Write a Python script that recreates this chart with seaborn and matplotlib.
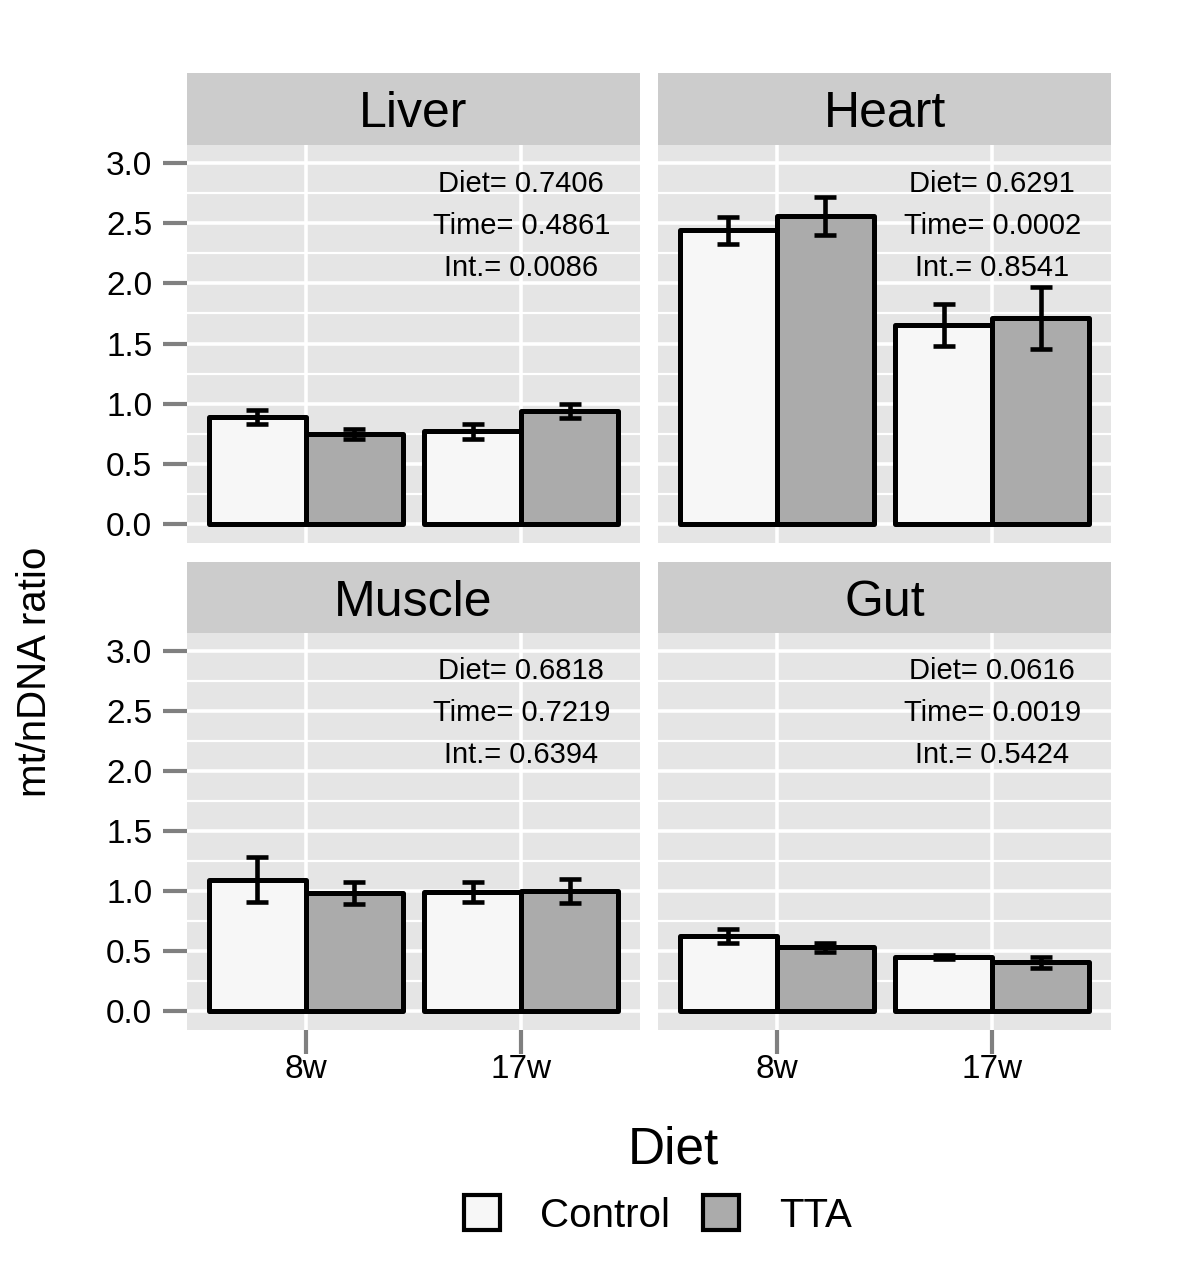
import numpy as np
import pandas as pd
import matplotlib
matplotlib.use('Agg')
import matplotlib.pyplot as plt
import seaborn as sns
from matplotlib.patches import Patch

# ---------------- data ----------------
tissues = ['Liver', 'Heart', 'Muscle', 'Gut']
times = ['8w', '17w']
diets = ['Control', 'TTA']
# order inside each list: 8w Control, 8w TTA, 17w Control, 17w TTA
liver_mean = [0.89, 0.75, 0.77, 0.94]
liver_err = [0.061, 0.040, 0.064, 0.058]
heart_mean = [2.44, 2.56, 1.655, 1.71]
heart_err = [0.114, 0.155, 0.177, 0.258]
muscle_mean = [1.095, 0.985, 0.99, 1.0]
muscle_err = [0.187, 0.093, 0.083, 0.098]
gut_mean = [0.625, 0.53, 0.45, 0.405]
gut_err = [0.058, 0.036, 0.017, 0.046]

stats_liver = ['Diet= 0.7406', 'Time= 0.4861', 'Int.= 0.0086']
stats_heart = ['Diet= 0.6291', 'Time= 0.0002', 'Int.= 0.8541']
stats_muscle = ['Diet= 0.6818', 'Time= 0.7219', 'Int.= 0.6394']
stats_gut = ['Diet= 0.0616', 'Time= 0.0019', 'Int.= 0.5424']

means = {'Liver': liver_mean, 'Heart': heart_mean, 'Muscle': muscle_mean, 'Gut': gut_mean}
errs = {'Liver': liver_err, 'Heart': heart_err, 'Muscle': muscle_err, 'Gut': gut_err}
stats = {'Liver': stats_liver, 'Heart': stats_heart, 'Muscle': stats_muscle, 'Gut': stats_gut}

rows = []
for t in tissues:
    k = 0
    for tm in times:
        for d in diets:
            rows.append(dict(Tissue=t, Time=tm, Diet=d, ratio=means[t][k], err=errs[t][k]))
            k += 1
df = pd.DataFrame(rows)

# ---------------- style ----------------
sns.set_theme(style='white')
plt.rcParams['font.family'] = ['Liberation Sans', 'DejaVu Sans']
plt.rcParams['text.color'] = 'black'

fill = {'Control': '#F7F7F7', 'TTA': '#ABABAB'}
panel_bg = '#E5E5E5'
strip_bg = '#CCCCCC'

W, H = 1200, 1276
fig = plt.figure(figsize=(W / 100, H / 100), dpi=100)

def fx(px):
    return px / W

def fy(py):
    return 1 - py / H

panels = {
    'Liver': (187, 640, 145, 543, 73),
    'Heart': (658, 1111, 145, 543, 73),
    'Muscle': (187, 640, 633, 1030, 562),
    'Gut': (658, 1111, 633, 1030, 562),
}

for t in tissues:
    x0, x1, y0, y1, ys = panels[t]
    ax = fig.add_axes([fx(x0), fy(y1), fx(x1 - x0), (y1 - y0) / H])
    sax = fig.add_axes([fx(x0), fy(y0), fx(x1 - x0), (y0 - ys) / H])
    sax.set_facecolor(strip_bg)
    sax.set_xticks([]); sax.set_yticks([])
    for s in sax.spines.values():
        s.set_visible(False)
    sax.text(0.5, 0.5, t, ha='center', va='center_baseline', fontsize=36, color='black',
             transform=sax.transAxes)

    sub = df[df.Tissue == t]
    sns.barplot(data=sub, x='Time', y='ratio', hue='Diet', order=times, hue_order=diets,
                palette=fill, edgecolor='black', linewidth=3.6, errorbar=None,
                width=0.9, legend=False, ax=ax, saturation=1)
    bar_containers = list(ax.containers)
    for i, cont in enumerate(bar_containers):
        d = diets[i]
        for j, bar in enumerate(cont):
            r = sub[(sub.Diet == d) & (sub.Time == times[j])].iloc[0]
            xc = bar.get_x() + bar.get_width() / 2
            ax.errorbar(xc, r.ratio, yerr=r.err, fmt='none', ecolor='black',
                        elinewidth=3.3, capsize=7.8, capthick=3.3, zorder=5)
    for p in ax.patches:
        p.set_joinstyle('round')

    ax.set_facecolor(panel_bg)
    for s in ax.spines.values():
        s.set_visible(False)
    ax.set_xlim(-0.55, 1.55)
    ax.set_ylim(-0.158, 3.15)
    ax.set_yticks(np.arange(0, 3.01, 0.5))
    ax.set_yticks(np.arange(0.25, 3.0, 0.5), minor=True)
    ax.grid(True, which='major', color='white', linewidth=2.6)
    ax.grid(True, which='minor', axis='y', color='white', linewidth=1.6)
    ax.set_axisbelow(True)
    ax.set_xlabel('')
    ax.set_ylabel('')
    ax.tick_params(axis='both', which='major', length=17, width=3, color='#808080',
                   labelsize=24, labelcolor='black', direction='out',
                   left=True, bottom=True)
    ax.tick_params(axis='y', which='major', pad=8)
    ax.tick_params(axis='x', which='major', pad=0.5)
    ax.tick_params(axis='y', which='minor', length=0, left=False)
    ax.set_yticklabels(['0.0', '0.5', '1.0', '1.5', '2.0', '2.5', '3.0'])
    if t in ('Heart', 'Gut'):
        ax.tick_params(axis='y', which='major', left=False, labelleft=False)
    if t in ('Liver', 'Heart'):
        ax.tick_params(axis='x', which='major', bottom=False, labelbottom=False)

    for k, (txt, yv) in enumerate(zip(stats[t], [2.83, 2.48, 2.13])):
        ax.text(1, yv, txt, ha='center', va='center', fontsize=21, color='black')

fig.text(fx(35), fy(672), 'mt/nDNA ratio', rotation=90, ha='center', va='center',
         fontsize=29, color='black')

fig.text(fx(673), fy(1150), 'Diet', ha='center', va='center', fontsize=37, color='black')

handles = [Patch(facecolor=fill[d], edgecolor='black', linewidth=3.0) for d in diets]
leg = fig.legend(handles, diets, loc='center', bbox_to_anchor=(fx(658), fy(1215)),
                 ncol=2, frameon=False, fontsize=29,
                 handlelength=0.9, handleheight=0.95, handletextpad=1.0,
                 columnspacing=0.8, labelcolor='black')

fig.savefig('out.png', dpi=100)
